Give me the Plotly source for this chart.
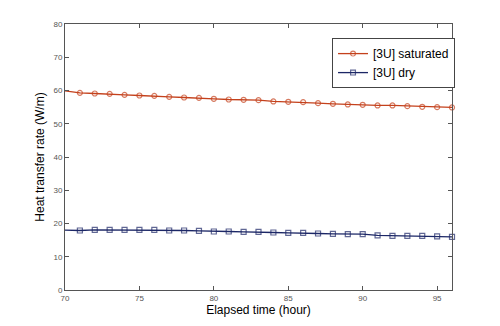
import plotly.graph_objects as go

hours = list(range(70, 97))
saturated = [59.9, 59.3, 59.1, 59.0, 58.7, 58.5, 58.4, 58.1, 57.9, 57.8, 57.5, 57.3, 57.2,
             57.1, 56.7, 56.6, 56.5, 56.2, 56.0, 55.8, 55.7, 55.5, 55.5, 55.3, 55.1, 55.0, 54.9]
dry = [18.0, 17.9, 18.1, 18.1, 18.1, 18.1, 18.1, 17.9, 17.9, 17.8, 17.6, 17.6, 17.5,
       17.5, 17.3, 17.2, 17.2, 17.0, 16.9, 16.8, 16.8, 16.4, 16.3, 16.3, 16.3, 16.1, 16.0]
x_ticks = [70, 75, 80, 85, 90, 95]
y_ticks = [0, 10, 20, 30, 40, 50, 60, 70, 80]

red = "#c4411c"
navy = "#1c2766"
msizes = [0] + [5] * (len(hours) - 1)

fig = go.Figure()
fig.add_trace(go.Scatter(x=hours, y=saturated, mode="lines+markers", name="[3U] saturated",
                         line=dict(color=red, width=1.3),
                         marker=dict(symbol="circle-open", size=msizes, color=red, line=dict(width=1.2)),
                         cliponaxis=False))
fig.add_trace(go.Scatter(x=hours, y=dry, mode="lines+markers", name="[3U] dry",
                         line=dict(color=navy, width=1.3),
                         marker=dict(symbol="square-open", size=msizes, color=navy, line=dict(width=1.2)),
                         cliponaxis=False))

axis_common = dict(showgrid=False, zeroline=False, showline=True, linecolor="#555555", linewidth=1,
                   mirror="ticks", ticks="inside", ticklen=4, tickcolor="#555555",
                   tickfont=dict(family="Arial, Liberation Sans", size=8, color="#555555"))
fig.update_xaxes(range=[70, 96], tickvals=x_ticks,
                 title=dict(text="Elapsed time (hour)", font=dict(family="Arial, Liberation Sans", size=12, color="#000"), standoff=4),
                 **axis_common)
fig.update_yaxes(range=[0, 80], tickvals=y_ticks,
                 title=dict(text="Heat transfer rate (W/m)", font=dict(family="Arial, Liberation Sans", size=12, color="#000"), standoff=6),
                 **axis_common)
fig.update_layout(width=500, height=326, margin=dict(l=65, r=48, t=24, b=36),
                  paper_bgcolor="white", plot_bgcolor="white",
                  legend=dict(x=0.69, y=0.947, xanchor="left", yanchor="top",
                              bgcolor="white", bordercolor="#444444", borderwidth=1,
                              font=dict(family="Arial, Liberation Sans", size=12, color="#000"),
                              itemwidth=30, tracegroupgap=0))
fig.write_html("out.html")
